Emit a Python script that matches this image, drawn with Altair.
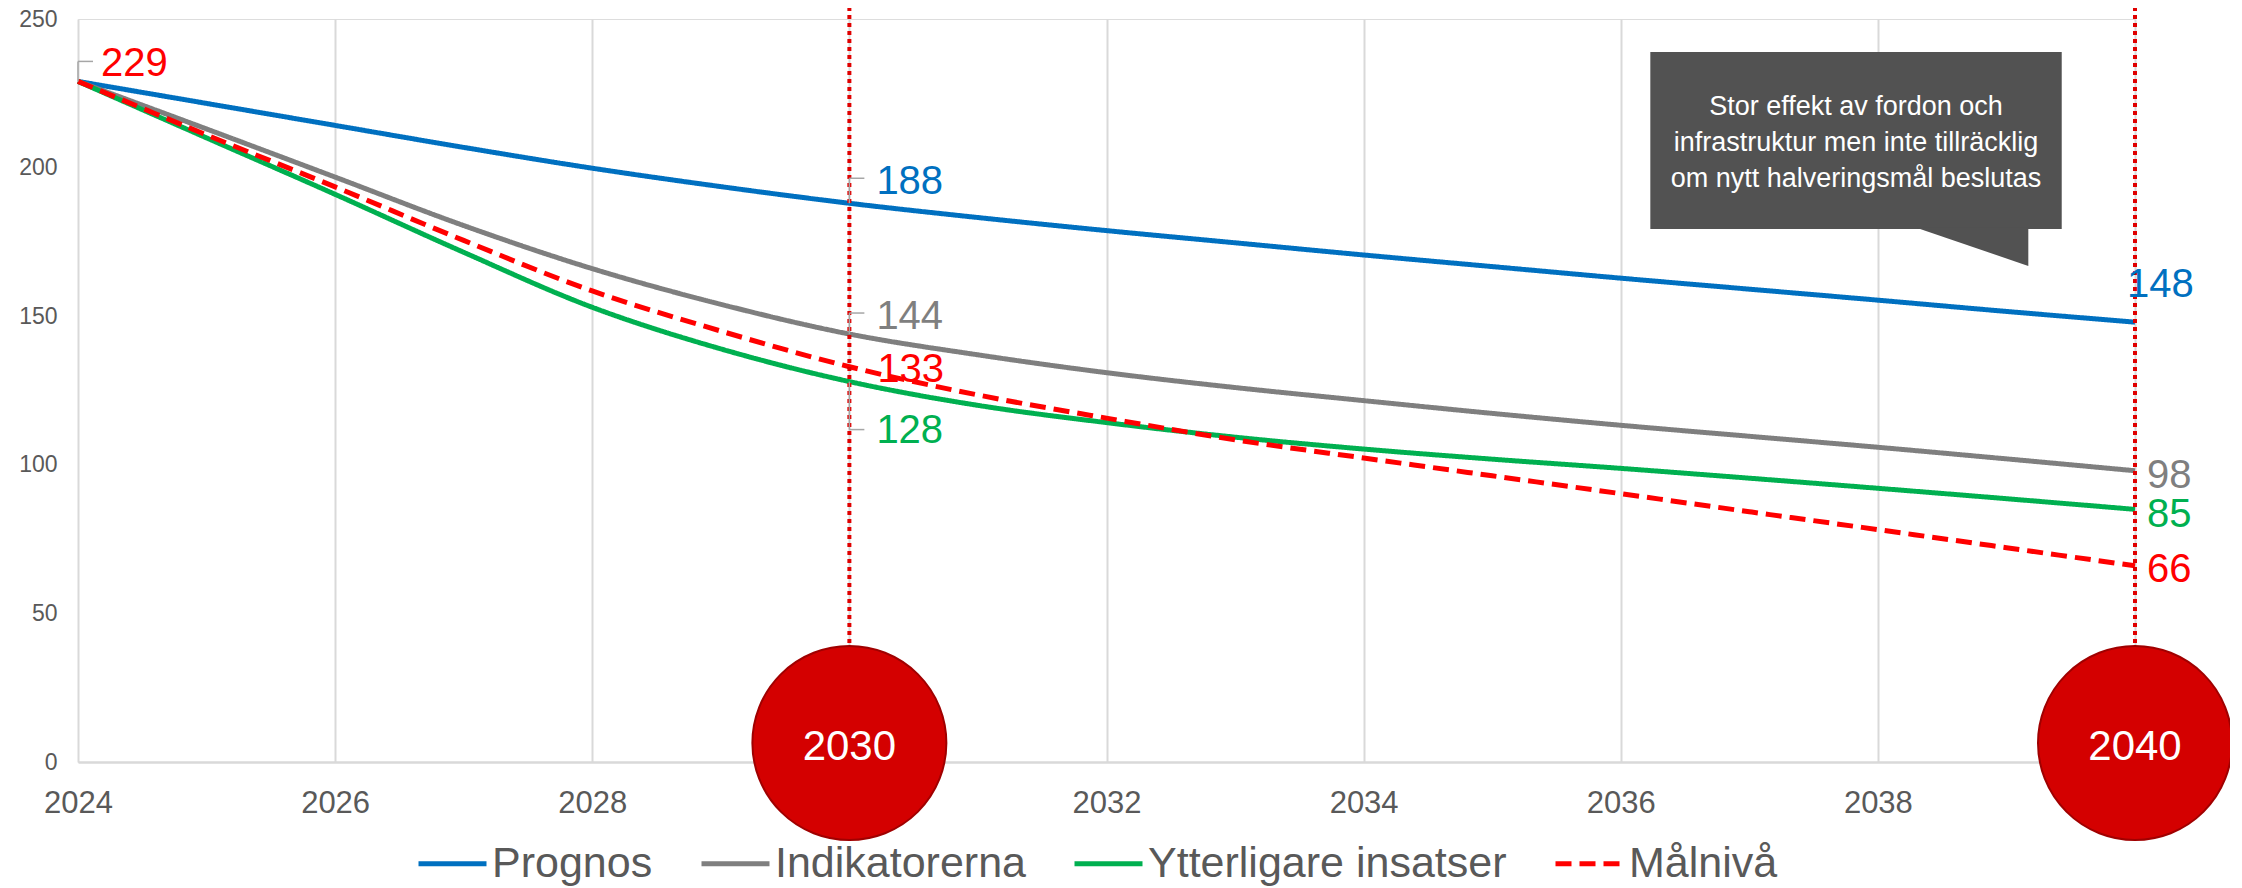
import altair as alt
import pandas as pd

# ---------------- data ----------------
years = list(range(2024, 2041))
prognos = [229, 221.6, 214.2, 206.8, 199.8, 193.6, 188, 183.2, 178.8, 174.7, 170.6, 166.7, 162.8, 159.1, 155.4, 151.6, 148]
indikatorerna = [229, 213, 196.8, 180.5, 166, 154, 144, 137, 131, 126, 121.6, 117.3, 113.3, 109.6, 105.9, 102, 98]
ytterligare = [229, 210, 191, 171.5, 153, 139, 128, 120, 114.2, 109.3, 105.3, 101.9, 98.8, 95.5, 92.1, 88.6, 85]
malniva = [229, 211, 193.5, 175.5, 158.5, 145, 133, 123.5, 115.7, 108.4, 102.3, 96.3, 90.3, 84.2, 78.2, 72.1, 66]

series_names = ["Prognos", "Indikatorerna", "Ytterligare insatser", "Målnivå"]
series_values = [prognos, indikatorerna, ytterligare, malniva]
series_colors = ["#0070C0", "#7F7F7F", "#00B050", "#FF0000"]
series_dashes = [[1, 0], [1, 0], [1, 0], [16, 8]]

x_ticks = list(range(2024, 2041, 2))
y_ticks = [0, 50, 100, 150, 200, 250]

milestone_years = [2030, 2040]

label_series = ["Målnivå", "Prognos", "Indikatorerna", "Målnivå", "Ytterligare insatser",
                "Prognos", "Indikatorerna", "Ytterligare insatser", "Målnivå"]
label_years = [2024, 2030, 2030, 2030, 2030, 2040, 2040, 2040, 2040]

callout_lines = ["Stor effekt av fordon och", "infrastruktur men inte tillräcklig", "om nytt halveringsmål beslutas"]

# ---------------- styles / placement (not data) ----------------
FONT = "Liberation Sans"
TXT = "#595959"
GRID = "#D9D9D9"
# per-label pixel offsets: (dx, dy, leader_dy or None)
label_offsets = [(23, -17, -20), (27, -21, -25), (27, -17, -21), (28, 3, None), (27, 49, 48),
                 (-8, -37, None), (12, 5, None), (12, 6, None), (12, 4, None)]
# callout geometry in data units (anchored annotation)
callout_box = {"x": 2036.23, "x2": 2039.43, "y": 238.9, "y2": 179.3}
callout_tail = {"x": [2038.30, 2039.17], "y": [179.8, 179.8], "y2": [179.8, 166.9]}
callout_text_pos = {"x": 2037.83, "y": 220.4}

# ---------------- tables ----------------
rows = []
for name, vals in zip(series_names, series_values):
    for yr, v in zip(years, vals):
        rows.append({"year": yr, "value": v, "series": name})
df = pd.DataFrame(rows)

lookup = {name: dict(zip(years, vals)) for name, vals in zip(series_names, series_values)}

xs = alt.Scale(domain=[2024, 2040], nice=False, zero=False)
ys = alt.Scale(domain=[0, 250], nice=False, zero=False)

x_axis = alt.Axis(values=x_ticks, format="d", labelFontSize=31, labelColor=TXT, labelFont=FONT,
                  grid=True, gridColor=GRID, gridWidth=2, domainColor=GRID, domainWidth=2.5,
                  ticks=False, labelPadding=26, labelFlush=False, title=None)
y_axis = alt.Axis(values=y_ticks, labelFontSize=23, labelColor=TXT, labelFont=FONT,
                  grid=False, domain=False, ticks=False, labelPadding=21, title=None)


def X(field="year"):
    return alt.X(f"{field}:Q", scale=xs, axis=x_axis, title=None)


def Y(field="value"):
    return alt.Y(f"{field}:Q", scale=ys, axis=y_axis, title=None)


legend = alt.Legend(orient="none", legendX=338, legendY=808, direction="horizontal", title=None,
                    labelFontSize=43, labelColor=TXT, labelFont=FONT, symbolType="stroke",
                    symbolSize=4624, symbolStrokeWidth=5, labelOffset=3, columnPadding=38,
                    padding=0, labelLimit=600)

lines = alt.Chart(df).mark_line(strokeWidth=5, interpolate="catmull-rom").encode(
    x=X(), y=Y(),
    color=alt.Color("series:N", scale=alt.Scale(domain=series_names, range=series_colors), legend=legend),
    strokeDash=alt.StrokeDash("series:N", scale=alt.Scale(domain=series_names, range=series_dashes), legend=legend),
    detail="series:N",
)

ms_df = pd.DataFrame({"year": milestone_years, "label": [str(y) for y in milestone_years]})

dotted = alt.Chart(ms_df).mark_rule(color="#E00000", strokeWidth=4, strokeDash=[4, 4], yOffset=-12).encode(
    x=X(), y=alt.Y(datum=250, scale=ys, axis=y_axis), y2=alt.Y2(datum=0)
)

circles = alt.Chart(ms_df).mark_point(shape="circle", size=37636, filled=True, fill="#D40000",
                                       stroke="#A00000", strokeWidth=2, opacity=1, yOffset=-19).encode(
    x=X(), y=alt.Y(datum=0, scale=ys, axis=y_axis)
)
circle_text = alt.Chart(ms_df).mark_text(color="white", fontSize=42, font=FONT, baseline="middle",
                                         align="center", dy=-15).encode(
    x=X(), y=alt.Y(datum=0, scale=ys, axis=y_axis), text="label:N"
)

label_layers = []
for s, yr, (dx, dy, ldy) in zip(label_series, label_years, label_offsets):
    v = lookup[s][yr]
    col = series_colors[series_names.index(s)]
    ldf = pd.DataFrame({"year": [yr], "value": [v], "txt": [str(int(round(v)))]})
    if ldy is not None:
        label_layers.append(alt.Chart(ldf).mark_rule(color="#A6A6A6", strokeWidth=1.5, y2Offset=ldy).encode(
            x=X(), y=Y(), y2="value:Q"))
        label_layers.append(alt.Chart(ldf).mark_rule(color="#A6A6A6", strokeWidth=1.5, yOffset=ldy,
                                                     x2Offset=15).encode(
            x=X(), x2="year:Q", y=Y()))
    label_layers.append(alt.Chart(ldf).mark_text(color=col, fontSize=40, font=FONT, align="left",
                                                 baseline="middle", dx=dx, dy=dy).encode(
        x=X(), y=Y(), text="txt:N"))

box = alt.Chart(pd.DataFrame([callout_box])).mark_rect(color="#525252").encode(
    x=X("x"), x2="x2:Q", y=Y("y"), y2="y2:Q")
tail = alt.Chart(pd.DataFrame(callout_tail)).mark_area(color="#525252", opacity=1).encode(
    x=X("x"), y=Y("y"), y2="y2:Q")
ctext = alt.Chart(pd.DataFrame([{"x": callout_text_pos["x"], "y": callout_text_pos["y"],
                                 "t": callout_lines}])).mark_text(
    color="white", fontSize=27, font=FONT, align="center", baseline="middle", lineHeight=36).encode(
    x=X("x"), y=Y("y"), text="t")

chart = alt.layer(lines, dotted, *label_layers, circles, circle_text, box, tail, ctext).properties(
    width=2057, height=743,
    padding={"left": 70, "top": 11, "right": 95, "bottom": 126},
    autosize=alt.AutoSizeParams(type="none"),
    background="white",
).configure_view(stroke=None).configure(font=FONT)

chart.save("out.html", embed_options={"renderer": "svg", "actions": False})
